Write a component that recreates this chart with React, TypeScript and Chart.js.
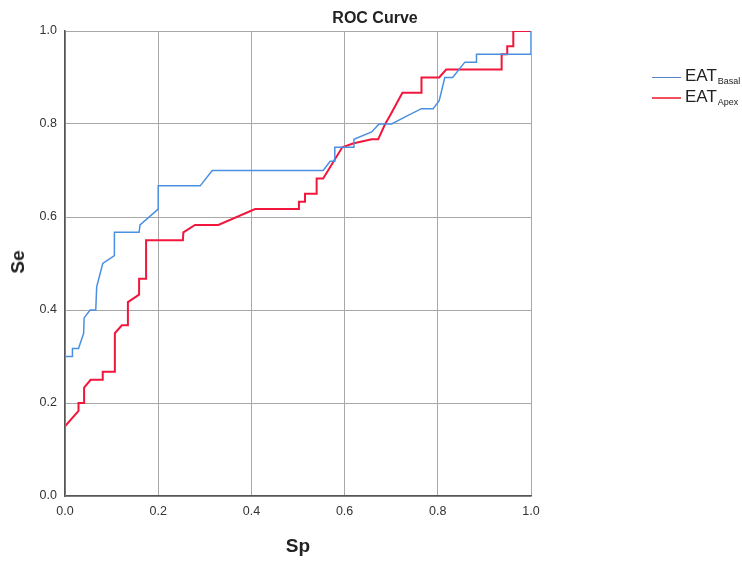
import React, { useEffect, useRef } from "react";
import { Chart, registerables } from "chart.js";

Chart.register(...registerables);

const basalX = [0, 0, 0.016, 0.016, 0.029, 0.04, 0.041, 0.054, 0.066, 0.068, 0.081, 0.106, 0.106, 0.159, 0.161, 0.2, 0.2, 0.29, 0.316, 0.554, 0.569, 0.579, 0.579, 0.62, 0.62, 0.658, 0.674, 0.701, 0.733, 0.765, 0.79, 0.803, 0.815, 0.832, 0.858, 0.883, 0.883, 1, 1];
const basalY = [0, 0.3, 0.3, 0.317, 0.317, 0.35, 0.383, 0.4, 0.4, 0.45, 0.5, 0.517, 0.567, 0.567, 0.583, 0.617, 0.667, 0.667, 0.7, 0.7, 0.72, 0.72, 0.75, 0.75, 0.767, 0.783, 0.8, 0.8, 0.817, 0.833, 0.833, 0.85, 0.9, 0.9, 0.933, 0.933, 0.95, 0.95, 1];

const apexX = [0, 0, 0.029, 0.029, 0.041, 0.041, 0.055, 0.081, 0.081, 0.107, 0.107, 0.122, 0.135, 0.135, 0.159, 0.159, 0.174, 0.174, 0.253, 0.254, 0.279, 0.329, 0.408, 0.502, 0.502, 0.515, 0.515, 0.54, 0.54, 0.554, 0.595, 0.618, 0.658, 0.672, 0.687, 0.697, 0.724, 0.765, 0.765, 0.803, 0.818, 0.937, 0.937, 0.949, 0.949, 0.962, 0.962, 1];
const apexY = [0, 0.15, 0.183, 0.2, 0.2, 0.233, 0.25, 0.25, 0.267, 0.267, 0.35, 0.367, 0.367, 0.417, 0.433, 0.467, 0.467, 0.55, 0.55, 0.567, 0.583, 0.583, 0.617, 0.617, 0.633, 0.633, 0.65, 0.65, 0.683, 0.683, 0.75, 0.758, 0.767, 0.767, 0.8, 0.817, 0.867, 0.867, 0.9, 0.9, 0.917, 0.917, 0.95, 0.95, 0.967, 0.967, 1, 1];

const seriesNames = ["Basal", "Apex"];
const seriesColors = ["#4a90e2", "#f2163c"];
const legendColors = ["#5a86c8", "#f2505e"];
const tickValues = [0, 0.2, 0.4, 0.6, 0.8, 1.0];

const FONT = "'Liberation Sans', Arial, sans-serif";

export default function App() {
  const ref = useRef<HTMLCanvasElement | null>(null);

  useEffect(() => {
    if (!ref.current) return;
    const toPts = (xs: number[], ys: number[]) => xs.map((x, i) => ({ x, y: ys[i] }));
    const chart = new Chart(ref.current, {
      type: "line",
      data: {
        datasets: [
          {
            label: "EAT " + seriesNames[0],
            data: toPts(basalX, basalY),
            borderColor: seriesColors[0],
            borderWidth: 1.5,
            pointRadius: 0,
            tension: 0,
            fill: false,
          },
          {
            label: "EAT " + seriesNames[1],
            data: toPts(apexX, apexY),
            borderColor: seriesColors[1],
            borderWidth: 2,
            pointRadius: 0,
            tension: 0,
            fill: false,
          },
        ],
      },
      options: {
        animation: false,
        responsive: false,
        layout: { padding: { top: 31, right: 211, left: 0, bottom: 0 } },
        plugins: { legend: { display: false }, title: { display: false }, tooltip: { enabled: false } },
        scales: {
          x: {
            type: "linear",
            min: 0,
            max: 1,
            afterBuildTicks: (s: any) => {
              s.ticks = tickValues.map((v) => ({ value: v }));
            },
            afterFit: (s: any) => {
              s.height = 66;
            },
            ticks: {
              callback: (v: any) => Number(v).toFixed(1),
              font: { family: FONT, size: 12.5 },
              color: "#333",
              padding: 8,
              maxRotation: 0,
            },
            grid: { color: "#a8a8a8", lineWidth: 1, drawTicks: false },
            border: { color: "#555", width: 1.5 },
          },
          y: {
            type: "linear",
            min: 0,
            max: 1,
            afterBuildTicks: (s: any) => {
              s.ticks = tickValues.map((v) => ({ value: v }));
            },
            afterFit: (s: any) => {
              s.width = 65;
            },
            ticks: {
              callback: (v: any) => Number(v).toFixed(1),
              font: { family: FONT, size: 12.5 },
              color: "#333",
              padding: 8,
            },
            grid: { color: "#a8a8a8", lineWidth: 1, drawTicks: false },
            border: { color: "#555", width: 1.5 },
          },
        },
      },
    });
    return () => chart.destroy();
  }, []);

  const legendItem = (name: string, color: string, top: number, thick: number) => (
    <div style={{ position: "absolute", left: 652, top, height: 20, display: "flex", alignItems: "center", fontFamily: FONT, color: "#222" }}>
      <div style={{ width: 29, height: 0, borderTop: `${thick}px solid ${color}`, marginRight: 4 }} />
      <span style={{ fontSize: 17, lineHeight: "20px", whiteSpace: "nowrap" }}>
        EAT<span style={{ fontSize: 9, position: "relative", top: 3, marginLeft: 1 }}>{name}</span>
      </span>
    </div>
  );

  return (
    <div style={{ position: "absolute", left: 0, top: 0, width: 742, height: 562, background: "#fff" }}>
      <canvas ref={ref} width={742} height={562} style={{ display: "block" }} />
      <div style={{ position: "absolute", left: 375, top: 18, transform: "translate(-50%, -50%)", whiteSpace: "nowrap", fontFamily: FONT, fontWeight: "bold", fontSize: 16, color: "#222" }}>
        ROC Curve
      </div>
      <div style={{ position: "absolute", left: 18, top: 262, transform: "translate(-50%, -50%) rotate(-90deg)", fontFamily: FONT, fontWeight: "bold", fontSize: 19, color: "#222" }}>
        Se
      </div>
      <div style={{ position: "absolute", left: 298, top: 546, transform: "translate(-50%, -50%)", fontFamily: FONT, fontWeight: "bold", fontSize: 19, color: "#222" }}>
        Sp
      </div>
      {legendItem(seriesNames[0], legendColors[0], 67, 1.5)}
      {legendItem(seriesNames[1], legendColors[1], 88, 2.5)}
    </div>
  );
}
